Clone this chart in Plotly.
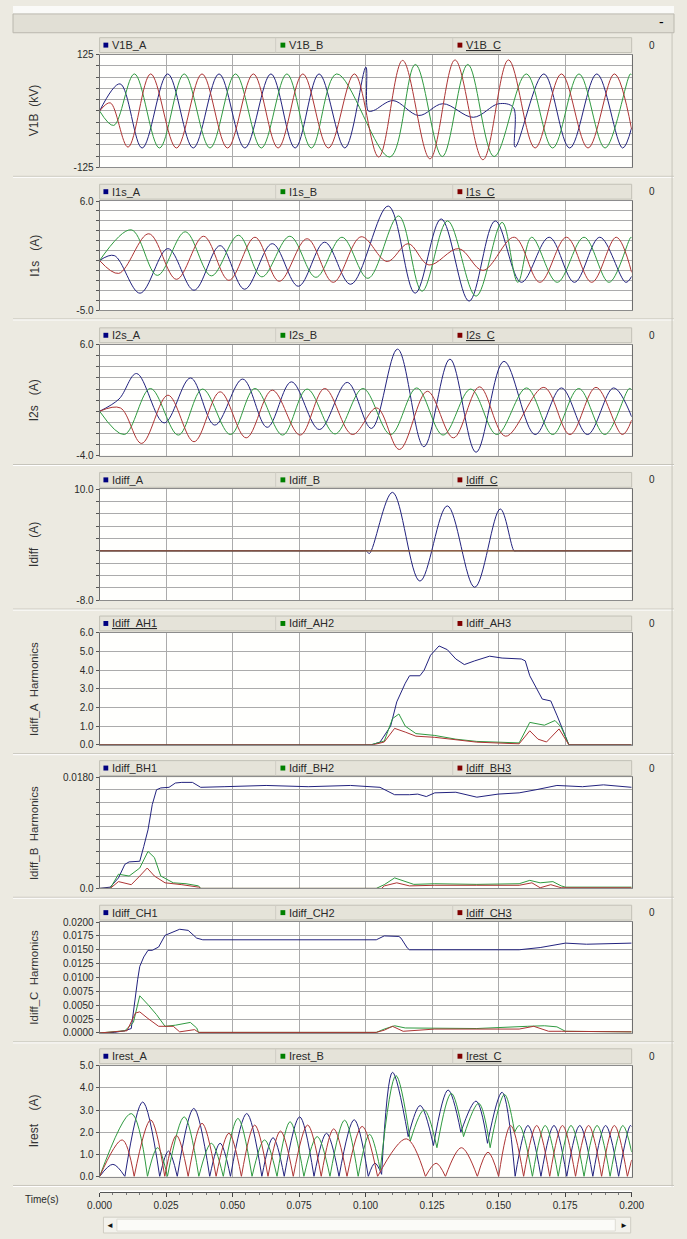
import plotly.graph_objects as go

# ------------------------------------------------------------------ data
# Panel 1 : V1B (kV)  -- extrema (t in s)
V1B_A_T = [0, 0.0077, 0.0160, 0.0256, 0.0352, 0.0449, 0.0546, 0.0644, 0.0735, 0.0825, 0.0922,
           0.1001, 0.1010, 0.1030, 0.1103, 0.1200, 0.1290, 0.1405, 0.1500, 0.1555, 0.1562,
           0.1670, 0.1767, 0.1869, 0.1966, 0.2000]
V1B_A_V = [0, 60, -82, 82, -82, 82, -82, 82, -82, 82, -82,
           97, 0, 1, 23, -10, 16, -14, 16, 8, -80,
           82, -82, 82, -82, -37]
V1B_B_T = [0, 0.0053, 0.0131, 0.0225, 0.0318, 0.0415, 0.0511, 0.0608, 0.0704, 0.0796, 0.0891,
           0.1091, 0.1187, 0.1288, 0.1384, 0.1483, 0.1604, 0.1703, 0.1802, 0.1900, 0.1995, 0.2000]
V1B_B_V = [0, -32, 82, -82, 82, -82, 82, -82, 82, -82, 82,
           -102, 103, -101, 103, -101, 82, -82, 82, -82, 82, 80]
V1B_C_T = [0, 0.0040, 0.0107, 0.0192, 0.0289, 0.0385, 0.0481, 0.0578, 0.0671, 0.0764, 0.0860,
           0.0958, 0.1049, 0.1139, 0.1242, 0.1336, 0.1441, 0.1537, 0.1637, 0.1736, 0.1836,
           0.1935, 0.2000]
V1B_C_V = [0, 18, -80, 82, -82, 82, -82, 82, -82, 82, -82,
           82, -102, 112, -106, 113, -108, 113, -82, 82, -82,
           82, -41]

# Panel 2 : I1s (A)
I1S_A_T = [0, 0.0055, 0.0152, 0.0257, 0.0355, 0.0453, 0.0545, 0.0649, 0.0747, 0.0846, 0.0944,
           0.1085, 0.1186, 0.1284, 0.1389, 0.1487, 0.1585, 0.1690, 0.1785, 0.1880, 0.1978, 0.2000]
I1S_A_V = [0, 0.5, -3.3, 1.2, -3.0, 1.5, -2.9, 1.7, -2.6, 1.85, -2.4,
           5.5, -3.3, 4.2, -4.1, 4.0, -2.2, 2.35, -2.2, 2.35, -2.2, -1.6]
I1S_B_T = [0, 0.0119, 0.0217, 0.0322, 0.0420, 0.0522, 0.0610, 0.0715, 0.0813, 0.0911, 0.1009,
           0.1124, 0.1212, 0.1308, 0.1415, 0.1513, 0.1572, 0.1624, 0.1720, 0.1821, 0.1915,
           0.1997, 0.2000]
I1S_B_V = [0, 3.1, -1.5, 2.9, -1.55, 2.55, -1.65, 2.45, -1.7, 2.35, -1.8,
           4.5, -3.1, 4.0, -3.6, 3.85, -2.2, 2.35, -2.2, 2.35, -2.2,
           2.35, 2.3]
I1S_C_T = [0, 0.0072, 0.0185, 0.0289, 0.0391, 0.0486, 0.0584, 0.0675, 0.0780, 0.0878, 0.0983,
           0.1081, 0.1160, 0.1238, 0.1350, 0.1441, 0.1559, 0.1655, 0.1755, 0.1850, 0.1942, 0.2000]
I1S_C_V = [0, -1.3, 2.7, -1.9, 2.45, -2.0, 2.35, -2.1, 2.2, -2.2, 2.4,
           -0.1, 1.7, -0.45, 1.2, -1.0, 2.35, -2.2, 2.35, -2.2, 2.35, -1.2]

# Panel 3 : I2s (A)
I2S_A_T = [0, 0.0073, 0.0139, 0.0243, 0.0342, 0.0433, 0.0538, 0.0630, 0.0721, 0.0826, 0.0931,
           0.1022, 0.1120, 0.1219, 0.1317, 0.1415, 0.1520, 0.1637, 0.1736, 0.1834, 0.1932, 0.2000]
I2S_A_V = [0, 1.1, 3.4, -1.05, 3.0, -1.25, 2.9, -1.45, 2.65, -1.65, 2.6,
           -1.55, 5.6, -3.2, 4.7, -3.7, 4.5, -2.1, 2.1, -2.1, 2.1, -0.5]
I2S_B_T = [0, 0.0093, 0.0191, 0.0296, 0.0387, 0.0492, 0.0584, 0.0688, 0.0780, 0.0885, 0.0990,
           0.1094, 0.1192, 0.1291, 0.1395, 0.1493, 0.1605, 0.1703, 0.1801, 0.1899, 0.1991, 0.2000]
I2S_B_V = [0, -2.1, 2.05, -2.15, 2.0, -2.1, 2.05, -2.15, 2.0, -2.05, 2.05,
           -2.1, 2.1, -2.15, 2.0, -2.1, 2.1, -2.1, 2.05, -2.1, 2.05, 1.95]
I2S_C_T = [0, 0.0078, 0.0158, 0.0257, 0.0355, 0.0453, 0.0551, 0.0649, 0.0754, 0.0846, 0.0950,
           0.1042, 0.1127, 0.1232, 0.1330, 0.1428, 0.1526, 0.1670, 0.1768, 0.1866, 0.1965, 0.2000]
I2S_C_V = [0, 0.3, -2.9, 1.45, -2.75, 1.75, -2.4, 1.9, -2.15, 2.05, -2.1,
           0.3, -3.45, 1.8, -2.4, 2.2, -2.25, 2.15, -2.1, 2.15, -2.1, -0.8]

# Panel 4 : Idiff (A)
IDIFF_A_T = [0, 0.0990, 0.1003, 0.1014, 0.1101, 0.1204, 0.1307, 0.1410, 0.1506, 0.1558,
             0.1565, 0.1580, 0.2000]
IDIFF_A_V = [0, 0, 0, -0.43, 9.5, -4.9, 7.3, -5.9, 6.8, 0,
             0, 0, 0]
IDIFF_BC_T = [0, 0.2000]
IDIFF_B_V = [0, 0]
IDIFF_C_V = [0, 0]

# Panel 5 : Idiff_A harmonics
AH1_T = [0, 0.1022, 0.1054, 0.1094, 0.1117, 0.1149, 0.1165, 0.1204, 0.1220, 0.1244, 0.1276,
         0.1307, 0.1339, 0.1371, 0.1410, 0.1466, 0.1513, 0.1585, 0.1600, 0.1617, 0.1664,
         0.1696, 0.1720, 0.1735, 0.1764, 0.2000]
AH1_V = [0, 0, 0.14, 1.0, 2.3, 3.3, 3.7, 3.7, 4.0, 4.8, 5.3,
         5.1, 4.6, 4.3, 4.5, 4.75, 4.65, 4.6, 4.5, 3.7, 2.45,
         2.35, 1.55, 1.0, 0, 0]
AH2_T = [0, 0.1020, 0.1070, 0.1101, 0.1125, 0.1149, 0.1189, 0.1260, 0.1339, 0.1418, 0.1577,
         0.1600, 0.1617, 0.1672, 0.1712, 0.1735, 0.1764, 0.2000]
AH2_V = [0, 0, 0.2, 1.4, 1.65, 1.0, 0.6, 0.5, 0.3, 0.18, 0.1,
         0.75, 1.2, 1.05, 1.3, 0.95, 0, 0]
AH3_T = [0, 0.1030, 0.1070, 0.1109, 0.1149, 0.1189, 0.1260, 0.1418, 0.1577, 0.1617, 0.1648,
         0.1680, 0.1727, 0.1764, 0.2000]
AH3_V = [0, 0, 0.15, 0.88, 0.68, 0.46, 0.4, 0.14, 0.05, 0.75, 0.3,
         0.15, 0.85, 0, 0]

# Panel 6 : Idiff_B harmonics
BH1_T = [0, 0.0040, 0.0071, 0.0095, 0.0111, 0.0151, 0.0166, 0.0182, 0.0198, 0.0214,
         0.0230, 0.0261, 0.0285, 0.0309, 0.0349, 0.0380, 0.0468, 0.0626, 0.0784, 0.0943,
         0.1054, 0.1109, 0.1165, 0.1196, 0.1228, 0.1260, 0.1339, 0.1418, 0.1498, 0.1577,
         0.1640, 0.1719, 0.1815, 0.1894, 0.2000]
BH1_V = [0, 0.0002, 0.0017, 0.0039, 0.0043, 0.0044, 0.0068, 0.0095, 0.0136, 0.0160,
         0.0163, 0.0164, 0.0171, 0.0172, 0.0172, 0.0164, 0.0165, 0.0167, 0.0165, 0.0167,
         0.0164, 0.0152, 0.0152, 0.0153, 0.0149, 0.0155, 0.0156, 0.0148, 0.0153, 0.0155,
         0.0160, 0.0167, 0.0165, 0.0168, 0.0164]
BH2_T = [0, 0.0040, 0.0071, 0.0111, 0.0151, 0.0182, 0.0206, 0.0230, 0.0277, 0.0325,
         0.0372, 0.0380, 0.1040, 0.1070, 0.1109, 0.1141, 0.1181, 0.1260, 0.1418, 0.1577,
         0.1617, 0.1656, 0.1704, 0.1735, 0.1751, 0.2000]
BH2_V = [0, 0, 0.0023, 0.0020, 0.0033, 0.0060, 0.0050, 0.0020, 0.0009, 0.00075,
         0.0004, 0, 0, 0.0006, 0.0017, 0.0012, 0.00065, 0.00075, 0.00065, 0.00075,
         0.0013, 0.0009, 0.0011, 0.0004, 0.0002, 0.0002]
BH3_T = [0, 0.0040, 0.0071, 0.0119, 0.0151, 0.0179, 0.0206, 0.0246, 0.0309, 0.0372,
         0.0380, 0.1060, 0.1070, 0.1117, 0.1165, 0.1260, 0.1418, 0.1577, 0.1625, 0.1656,
         0.1696, 0.1735, 0.2000]
BH3_V = [0, 0, 0.0011, 0.0006, 0.0020, 0.0033, 0.0020, 0.0009, 0.0006, 0.0002,
         0, 0, 0.0004, 0.0009, 0.0004, 0.0005, 0.0005, 0.0005, 0.0009, 0.0001,
         0.0006, 0.0001, 0.0001]

# Panel 7 : Idiff_C harmonics
CH1_T = [0, 0.0055, 0.0095, 0.0119, 0.0143, 0.0151, 0.0166, 0.0182, 0.0198, 0.0222,
         0.0246, 0.0269, 0.0301, 0.0333, 0.0365, 0.0388, 0.1040, 0.1070, 0.1086, 0.1125,
         0.1133, 0.1157, 0.1165, 0.1260, 0.1307, 0.1418, 0.1498, 0.1577, 0.1656, 0.1719,
         0.1751, 0.1830, 0.2000]
CH1_V = [0, 0.0001, 0.0004, 0.0008, 0.0096, 0.0120, 0.0137, 0.0149, 0.0149, 0.0155,
         0.0176, 0.0181, 0.0187, 0.0185, 0.0171, 0.0168, 0.0168, 0.0175, 0.0175, 0.0174,
         0.0171, 0.0153, 0.0150, 0.0150, 0.0149, 0.0150, 0.0149, 0.0150, 0.0154, 0.0160,
         0.0162, 0.0160, 0.0162]
CH2_T = [0, 0.0095, 0.0127, 0.0151, 0.0182, 0.0214, 0.0246, 0.0285, 0.0341, 0.0365,
         0.0372, 0.1040, 0.1070, 0.1109, 0.1149, 0.1260, 0.1418, 0.1609, 0.1672, 0.1719,
         0.1751, 0.2000]
CH2_V = [0, 0.0004, 0.0019, 0.0067, 0.0051, 0.0033, 0.0012, 0.0014, 0.0019, 0.0009,
         0.0001, 0.0001, 0.0007, 0.0013, 0.0009, 0.0009, 0.0008, 0.0012, 0.0013, 0.0011,
         0.0003, 0.0002]
CH3_T = [0, 0.0103, 0.0135, 0.0151, 0.0182, 0.0222, 0.0277, 0.0301, 0.0357, 0.0372,
         0.1040, 0.1070, 0.1101, 0.1141, 0.1260, 0.1418, 0.1577, 0.1632, 0.1688, 0.1735,
         0.2000]
CH3_V = [0, 0.0004, 0.0036, 0.0038, 0.0026, 0.0012, 0.0012, 0.0002, 0.0006, 0.0001,
         0.0001, 0.0005, 0.0012, 0.0003, 0.0007, 0.0007, 0.0007, 0.0012, 0.0003, 0.0003,
         0.0002]

# Panel 8 : Irest (A) -- alternating valley / peak points (even index = valley)
IREST_A_T = [0.0000, 0.0050, 0.0095, 0.0162, 0.0226, 0.0259, 0.0292, 0.0354, 0.0414, 0.0453,
             0.0492, 0.0553, 0.0610, 0.0652, 0.0694, 0.0752, 0.0806, 0.0853, 0.0900, 0.0957,
             0.1010, 0.1035, 0.1060, 0.1101, 0.1160, 0.1205, 0.1255, 0.1310, 0.1358, 0.1415,
             0.1458, 0.1513, 0.1562, 0.1610, 0.1659, 0.1708, 0.1756, 0.1805, 0.1854, 0.1902,
             0.1951, 0.1995, 0.2000]
IREST_A_V = [0, 0.55, 0, 3.36, 0, 1.15, 0, 3.07, 0, 1.5,
             0, 2.84, 0, 1.75, 0, 2.69, 0, 1.95, 0, 2.56,
             0, 0.6, 0.1, 4.7, 1.8, 3.2, 1.4, 3.9, 2.0, 3.4,
             1.5, 3.8, 0, 2.3, 0, 2.3, 0, 2.3, 0, 2.3,
             0, 2.3, 2.25]
IREST_B_T = [0.0000, 0.0119, 0.0180, 0.0218, 0.0255, 0.0318, 0.0373, 0.0420, 0.0465, 0.0520,
             0.0573, 0.0620, 0.0667, 0.0716, 0.0768, 0.0818, 0.0866, 0.0921, 0.0972, 0.1015,
             0.1055, 0.1114, 0.1168, 0.1220, 0.1268, 0.1322, 0.1368, 0.1425, 0.1468, 0.1522,
             0.1560, 0.1578, 0.1627, 0.1675, 0.1724, 0.1772, 0.1821, 0.1870, 0.1919, 0.1967,
             0.2000]
IREST_B_V = [0, 2.84, 0, 1.3, 0, 2.69, 0, 1.5, 0, 2.62,
             0, 1.65, 0, 2.47, 0, 1.8, 0, 2.54, 0, 1.9,
             0.3, 4.55, 1.6, 3.0, 1.3, 3.75, 1.8, 3.3, 1.3, 3.7,
             2.0, 2.3, 0, 2.3, 0, 2.3, 0, 2.3, 0, 2.3,
             1.1]
IREST_C_T = [0.0000, 0.0085, 0.0130, 0.0192, 0.0245, 0.0289, 0.0333, 0.0385, 0.0438, 0.0486,
             0.0533, 0.0583, 0.0633, 0.0680, 0.0728, 0.0782, 0.0833, 0.0880, 0.0930, 0.0987,
             0.1045, 0.1153, 0.1225, 0.1265, 0.1300, 0.1360, 0.1420, 0.1460, 0.1500, 0.1545,
             0.1594, 0.1643, 0.1692, 0.1740, 0.1789, 0.1838, 0.1887, 0.1935, 0.1984, 0.2000]
IREST_C_V = [0, 1.65, 0, 2.55, 0, 1.85, 0, 2.4, 0, 1.95,
             0, 2.32, 0, 2.05, 0, 2.32, 0, 2.15, 0, 2.26,
             0, 1.7, 0, 0.6, 0, 1.3, 0, 1.1, 0, 2.3,
             0, 2.3, 0, 2.3, 0, 2.3, 0, 2.3, 0, 0.75]

# Tick values / labels
TIME_TICKS = [0, 0.025, 0.05, 0.075, 0.1, 0.125, 0.15, 0.175, 0.2]
TIME_LABELS = ["0.000", "0.025", "0.050", "0.075", "0.100", "0.125", "0.150", "0.175", "0.200"]
V1B_TICKS = [-125, -100, -75, -50, -25, 0, 25, 50, 75, 100, 125]
V1B_LABELS = ["-125", "", "", "", "", "", "", "", "", "", "125"]
I1S_TICKS = [-5, -4, -3, -2, -1, 0, 1, 2, 3, 4, 5, 6]
I1S_LABELS = ["-5.0", "", "", "", "", "", "", "", "", "", "", "6.0"]
I2S_TICKS = [-4, -3, -2, -1, 0, 1, 2, 3, 4, 5, 6]
I2S_LABELS = ["-4.0", "", "", "", "", "", "", "", "", "", "6.0"]
IDIFF_TICKS = [-8, -6, -4, -2, 0, 2, 4, 6, 8, 10]
IDIFF_LABELS = ["-8.0", "", "", "", "", "", "", "", "", "10.0"]
AH_TICKS = [0, 1, 2, 3, 4, 5, 6]
AH_LABELS = ["0.0", "1.0", "2.0", "3.0", "4.0", "5.0", "6.0"]
BH_TICKS = [0, 0.002, 0.004, 0.006, 0.008, 0.010, 0.012, 0.014, 0.016, 0.018]
BH_LABELS = ["0.0", "", "", "", "", "", "", "", "", "0.0180"]
CH_TICKS = [0, 0.0025, 0.005, 0.0075, 0.01, 0.0125, 0.015, 0.0175, 0.02]
CH_LABELS = ["0.0000", "0.0025", "0.0050", "0.0075", "0.0100", "0.0125", "0.0150", "0.0175", "0.0200"]
IREST_TICKS = [0, 1, 2, 3, 4, 5]
IREST_LABELS = ["0.0", "1.0", "2.0", "3.0", "4.0", "5.0"]

Y_TITLES = ["V1B\u00a0\u00a0(kV)", "I1s\u00a0\u00a0\u00a0(A)", "I2s\u00a0\u00a0\u00a0(A)",
            "Idiff\u00a0\u00a0\u00a0(A)", "Idiff_A\u00a0\u00a0Harmonics",
            "Idiff_B\u00a0\u00a0Harmonics", "Idiff_C\u00a0\u00a0Harmonics",
            "Irest\u00a0\u00a0\u00a0\u00a0(A)"]
LEGEND_NAMES = [["V1B_A", "V1B_B", "V1B_C"], ["I1s_A", "I1s_B", "I1s_C"],
                ["I2s_A", "I2s_B", "I2s_C"], ["Idiff_A", "Idiff_B", "Idiff_C"],
                ["Idiff_AH1", "Idiff_AH2", "Idiff_AH3"], ["Idiff_BH1", "Idiff_BH2", "Idiff_BH3"],
                ["Idiff_CH1", "Idiff_CH2", "Idiff_CH3"], ["Irest_A", "Irest_B", "Irest_C"]]
UNDERLINED = [2, 2, 2, 2, 0, 2, 2, 2]

# ------------------------------------------------------------------ styling / layout
W, H = 687, 1239
PX0, PX1 = 90, 643
PANELS = [(49, 163), (197, 307), (342, 454), (488, 600), (633, 746), (779, 891), (925, 1037), (1070, 1182)]
COLS = ['#22227e', '#2f9a40', '#ad3434']
LEG_COLS = ['#000080', '#008000', '#800000']
GRID = '#ababab'
FRAME = '#ECEAE1'
FONT = 'Liberation Sans, Arial, sans-serif'
TXT = '#2a2a2a'


def fx(px):
    return px / W


def fy(py):
    return 1 - py / H


def arches(ts, vs):
    xs, ys = [], []
    for i in range(0, len(ts) - 1, 2):
        xs += list(ts[i:i + 3]) + [None]
        ys += list(vs[i:i + 3]) + [None]
    return xs, ys


series = [
    [(V1B_A_T, V1B_A_V), (V1B_B_T, V1B_B_V), (V1B_C_T, V1B_C_V)],
    [(I1S_A_T, I1S_A_V), (I1S_B_T, I1S_B_V), (I1S_C_T, I1S_C_V)],
    [(I2S_A_T, I2S_A_V), (I2S_B_T, I2S_B_V), (I2S_C_T, I2S_C_V)],
    [(IDIFF_A_T, IDIFF_A_V), (IDIFF_BC_T, IDIFF_B_V), (IDIFF_BC_T, IDIFF_C_V)],
    [(AH1_T, AH1_V), (AH2_T, AH2_V), (AH3_T, AH3_V)],
    [(BH1_T, BH1_V), (BH2_T, BH2_V), (BH3_T, BH3_V)],
    [(CH1_T, CH1_V), (CH2_T, CH2_V), (CH3_T, CH3_V)],
    [arches(IREST_A_T, IREST_A_V), arches(IREST_B_T, IREST_B_V), arches(IREST_C_T, IREST_C_V)],
]
shapes_kind = ['spline', 'spline', 'spline', 'spline', 'linear', 'linear', 'linear', 'spline']
yranges = [(-125, 125), (-5, 6), (-4, 6), (-8, 10), (0, 6), (0, 0.018), (0, 0.02), (0, 5)]
yticks = [(V1B_TICKS, V1B_LABELS), (I1S_TICKS, I1S_LABELS), (I2S_TICKS, I2S_LABELS),
          (IDIFF_TICKS, IDIFF_LABELS), (AH_TICKS, AH_LABELS), (BH_TICKS, BH_LABELS),
          (CH_TICKS, CH_LABELS), (IREST_TICKS, IREST_LABELS)]

fig = go.Figure()
layout = dict(width=W, height=H, autosize=False, margin=dict(l=0, r=0, t=0, b=0, pad=0),
              paper_bgcolor=FRAME, plot_bgcolor='#FFFFFD', showlegend=False,
              font=dict(family=FONT, size=10, color=TXT))
shapes, annos = [], []

# header strip
shapes.append(dict(type='rect', xref='paper', yref='paper', x0=0, x1=1, y0=fy(0), y1=fy(8),
                   fillcolor='#FAFAF8', line=dict(width=0), layer='below'))
shapes.append(dict(type='rect', xref='paper', yref='paper', x0=0, x1=1, y0=fy(27), y1=fy(8),
                   fillcolor='#E1DFD5', line=dict(color='#BAB8AE', width=1), layer='below'))
annos.append(dict(text='-', x=fx(674), y=fy(16), xref='paper', yref='paper', showarrow=False,
                  font=dict(size=14, color='#000'), xanchor='center', yanchor='middle'))

for i, (top, bot) in enumerate(PANELS):
    n = i + 1
    xs = '' if n == 1 else str(n)
    for k, (tt, vv) in enumerate(series[i]):
        fig.add_trace(go.Scatter(x=tt, y=vv, mode='lines', xaxis='x' + xs, yaxis='y' + xs,
                                 line=dict(color=COLS[k], width=1, shape=shapes_kind[i]),
                                 connectgaps=False, hoverinfo='skip', name=LEGEND_NAMES[i][k]))
    tv, tl = yticks[i]
    layout['xaxis' + xs] = dict(domain=[fx(PX0), fx(PX1)], range=[0, 0.2], anchor='y' + xs,
                                tickvals=TIME_TICKS, showticklabels=False, ticks='',
                                showgrid=True, gridcolor=GRID, gridwidth=1, zeroline=False,
                                showline=True, linecolor='#8c8c8c', linewidth=1, mirror=True)
    layout['yaxis' + xs] = dict(domain=[fy(bot), fy(top)], range=list(yranges[i]), anchor='x' + xs,
                                tickvals=tv, ticktext=tl, ticks='outside', ticklen=3,
                                tickcolor='#555', tickwidth=1,
                                showgrid=True, gridcolor=GRID, gridwidth=1, zeroline=False,
                                showline=True, linecolor='#6e6e6e', linewidth=1, mirror=True,
                                tickfont=dict(size=10, color=TXT, family=FONT))
    ltop, lbot = top - 17, top - 2
    shapes.append(dict(type='rect', xref='paper', yref='paper', x0=fx(PX0), x1=fx(PX1),
                       y0=fy(lbot), y1=fy(ltop), fillcolor='#E5E3D9',
                       line=dict(color='#C2C0B6', width=1), layer='below'))
    for dx in (273, 457):
        shapes.append(dict(type='line', xref='paper', yref='paper', x0=fx(dx), x1=fx(dx),
                           y0=fy(lbot), y1=fy(ltop), line=dict(color='#CFCDC4', width=1)))
    lc = (ltop + lbot) / 2
    for k, ex in enumerate((94, 278, 462)):
        shapes.append(dict(type='rect', xref='paper', yref='paper', x0=fx(ex), x1=fx(ex + 5),
                           y0=fy(lc + 2.5), y1=fy(lc - 2.5), fillcolor=LEG_COLS[k],
                           line=dict(width=0)))
        name = LEGEND_NAMES[i][k]
        if k == UNDERLINED[i]:
            name = '<u>' + name + '</u>'
        annos.append(dict(text=name, x=fx(ex + 7), y=fy(lc), xref='paper', yref='paper',
                          showarrow=False, xanchor='left', yanchor='middle',
                          font=dict(size=11, color=TXT, family=FONT)))
    annos.append(dict(text='0', x=fx(664), y=fy(lc), xref='paper', yref='paper', showarrow=False,
                      xanchor='center', yanchor='middle', font=dict(size=10, color=TXT)))
    annos.append(dict(text=Y_TITLES[i], x=fx(22), y=fy((top + bot) / 2), xref='paper', yref='paper',
                      showarrow=False, textangle=-90, xanchor='center', yanchor='middle',
                      font=dict(size=12 if i not in (4, 5, 6) else 11.5, color='#333', family=FONT)))
    sep = bot + 9
    shapes.append(dict(type='line', xref='paper', yref='paper', x0=0, x1=1, y0=fy(sep), y1=fy(sep),
                       line=dict(color='#C6C4BA', width=1)))
    shapes.append(dict(type='line', xref='paper', yref='paper', x0=0, x1=1, y0=fy(sep + 1),
                       y1=fy(sep + 1), line=dict(color='#FFFFFF', width=1)))

shapes.append(dict(type='line', xref='paper', yref='paper', x0=fx(685), x1=fx(685), y0=fy(1192),
                   y1=fy(27), line=dict(color='#C6C4BA', width=1)))

# time axis
fig.add_trace(go.Scatter(x=[0, 0.2], y=[0, 0], xaxis='x9', yaxis='y9', mode='lines',
                         line=dict(width=1, color='rgba(0,0,0,0)'), hoverinfo='skip'))
layout['xaxis9'] = dict(domain=[fx(PX0), fx(PX1)], range=[0, 0.2], anchor='y9',
                        tickvals=TIME_TICKS, ticktext=TIME_LABELS, ticks='outside', ticklen=4,
                        tickcolor='#444', showline=True, linecolor='#555', linewidth=1,
                        showgrid=False, zeroline=False,
                        minor=dict(dtick=0.005, ticks='outside', ticklen=2, tickcolor='#777'),
                        tickfont=dict(size=10, color=TXT, family=FONT))
layout['yaxis9'] = dict(domain=[fy(1198), fy(1196)], range=[0, 1], anchor='x9', visible=False)
annos.append(dict(text='Time(s)', x=fx(30), y=fy(1205), xref='paper', yref='paper', showarrow=False,
                  xanchor='center', yanchor='middle', font=dict(size=10, color=TXT, family=FONT)))

# scrollbar
shapes.append(dict(type='rect', xref='paper', yref='paper', x0=fx(94), x1=fx(642), y0=fy(1239),
                   y1=fy(1223), fillcolor='#F3F2EC', line=dict(color='#CFCDC3', width=1)))
shapes.append(dict(type='rect', xref='paper', yref='paper', x0=fx(108), x1=fx(626), y0=fy(1237),
                   y1=fy(1225), fillcolor='#FBFBF8', line=dict(color='#DEDCD4', width=1)))
annos.append(dict(text='\u25c4', x=fx(101), y=fy(1231), xref='paper', yref='paper', showarrow=False,
                  xanchor='center', yanchor='middle', font=dict(size=8, color='#111')))
annos.append(dict(text='\u25ba', x=fx(635), y=fy(1231), xref='paper', yref='paper', showarrow=False,
                  xanchor='center', yanchor='middle', font=dict(size=8, color='#111')))

layout['shapes'] = shapes
layout['annotations'] = annos
fig.update_layout(**layout)

fig.write_html("out.html", config={'displayModeBar': False},
               post_script="document.body.style.margin='0';")
